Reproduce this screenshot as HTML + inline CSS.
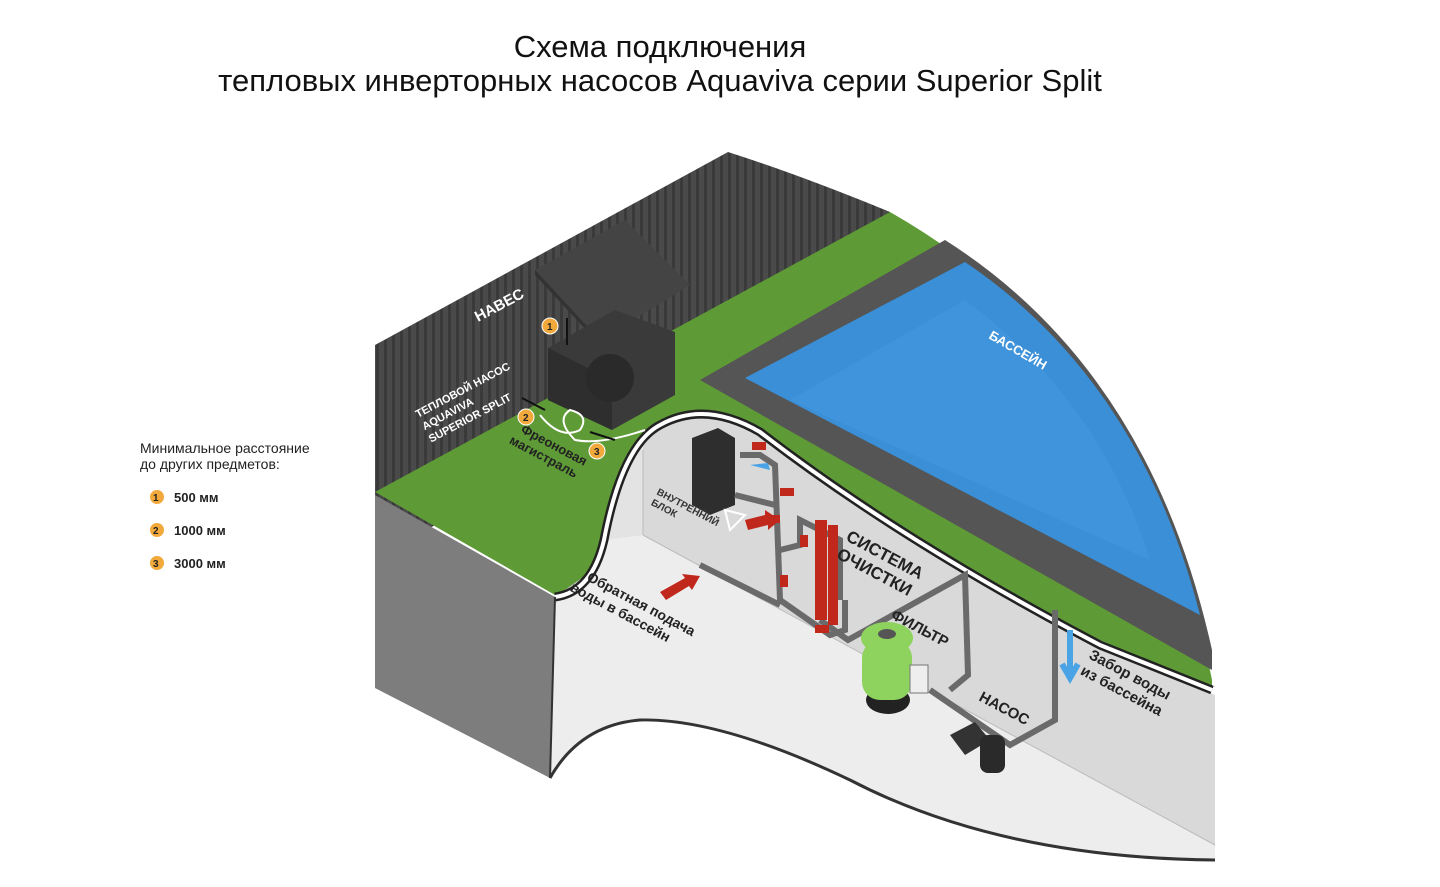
<!DOCTYPE html>
<html><head><meta charset="utf-8"><style>
html,body{margin:0;padding:0;background:#fff;}
body{width:1440px;height:887px;position:relative;overflow:hidden;font-family:"Liberation Sans",sans-serif;}
.t{position:absolute;left:0;width:1320px;text-align:center;font-size:31px;color:#111;}
</style></head><body>
<div class="t" style="top:29px">Схема подключения</div>
<div class="t" style="top:63px">тепловых инверторных насосов Aquaviva серии Superior Split</div>
<svg width="1440" height="887" style="position:absolute;left:0;top:0" font-family="Liberation Sans, sans-serif">
<defs>
<pattern id="st" width="8" height="8" patternUnits="userSpaceOnUse">
<rect width="8" height="8" fill="#4a4a4a"/><rect width="3" height="8" fill="#3a3a3a"/>
</pattern>
</defs>
<!-- legend -->
<text x="140" y="453" font-size="14" fill="#222">Минимальное расстояние</text>
<text x="140" y="469" font-size="14" fill="#222">до других предметов:</text>
<g font-size="13" font-weight="bold" fill="#222">
<circle cx="157" cy="497" r="7" fill="#f2a93b"/><text x="153" y="501" font-size="10">1</text><text x="174" y="502">500 мм</text>
<circle cx="157" cy="530" r="7" fill="#f2a93b"/><text x="153" y="534" font-size="10">2</text><text x="174" y="535">1000 мм</text>
<circle cx="157" cy="563" r="7" fill="#f2a93b"/><text x="153" y="567" font-size="10">3</text><text x="174" y="568">3000 мм</text>
</g>
<!-- fence -->
<path d="M375,345 L728,152 Q800,175 890,212 L890,260 L375,560 Z" fill="url(#st)"/>
<!-- green ground -->
<path d="M375,492 L890,212 Q1150,360 1212,680 L1212,690 L1100,640 Q900,540 760,430 Q700,400 660,425 Q620,450 600,540 Q590,590 555,595 Z" fill="#5e9a36"/>
<!-- pool border -->
<path d="M700,380 L945,240 Q1150,370 1212,650 L1212,670 Z" fill="#555"/>
<path d="M745,378 L965,262 Q1140,380 1200,615 Z" fill="#3a8fd6"/>
<path d="M790,400 L965,300 Q1100,400 1150,560 Z" fill="#4598dd" opacity="0.6"/>
<!-- under section: left wall -->
<path d="M375,495 L555,597 L550,778 L375,688 Z" fill="#7d7d7d"/>
<!-- back wall -->
<path d="M555,597 Q592,592 604,540 Q622,445 660,425 Q705,400 760,432 Q900,540 1100,645 L1215,695 L1215,845 L643,535 Z" fill="#d9d9d9"/>
<path d="M604,540 Q615,470 643,445 L643,535 Z" fill="#e3e3e3"/>
<!-- floor -->
<path d="M555,597 Q592,592 604,540 L643,535 L1215,845 L1215,860 Q1000,860 850,780 Q720,718 640,720 Q580,730 550,778 Z" fill="#ededed"/>
<path d="M643,535 L1215,845" stroke="#bbb" stroke-width="1"/>
<path d="M643,450 L643,535" stroke="#bbb" stroke-width="1"/>
<!-- cut white rim -->
<path d="M555,597 Q592,592 604,540 Q622,445 660,425 Q705,400 760,432 Q900,540 1100,645 L1212,690" fill="none" stroke="#222" stroke-width="9"/>
<path d="M555,597 Q592,592 604,540 Q622,445 660,425 Q705,400 760,432 Q900,540 1100,645 L1212,690" fill="none" stroke="#fff" stroke-width="4"/>
<path d="M550,778 Q580,725 640,720 Q720,718 850,780 Q1000,858 1215,860" fill="none" stroke="#333" stroke-width="3"/>
<path d="M555,597 L550,778" stroke="#333" stroke-width="2"/>
<!-- heat pump -->
<path d="M535,270 L625,220 L690,285 L600,340 Z" fill="#444"/>
<path d="M535,270 L600,340 L600,345 L535,275Z" fill="#333"/>
<path d="M548,348 L615,310 L675,332 L675,395 L612,430 L548,400 Z" fill="#3a3a3a"/>
<path d="M548,348 L612,380 L612,430 L548,400Z" fill="#2e2e2e"/>
<circle cx="610" cy="378" r="24" fill="#2a2a2a"/>
<path d="M540,415 Q560,440 580,430 Q590,415 570,410 Q555,420 575,440 Q600,445 645,430" fill="none" stroke="#fff" stroke-width="2"/>
<g fill="#f2a93b" stroke="#fff" stroke-width="1"><circle cx="550" cy="326" r="8"/><circle cx="526" cy="417" r="8"/><circle cx="597" cy="451" r="8"/></g>
<g font-size="10" font-weight="bold" fill="#222"><text x="547" y="330">1</text><text x="523" y="421">2</text><text x="594" y="455">3</text></g>
<path d="M567,318 L567,345 M522,398 L545,410 M590,432 L615,440" stroke="#111" stroke-width="2"/>
<!-- indoor block -->
<path d="M692,438 L718,428 L735,438 L735,505 L710,515 L692,505Z" fill="#2e2e2e"/>
<!-- pipes -->
<g fill="none" stroke="#6a6a6a" stroke-width="6">
<path d="M740,455 L760,455 L775,465 L780,600 L830,635 L845,630 L845,600"/>
<path d="M735,495 L775,505"/>
<path d="M780,550 L800,545 L800,520 L840,540 L840,600"/>
<path d="M820,620 L848,640 L965,575 L968,675 L950,690"/>
<path d="M700,565 L780,605"/>
<path d="M930,690 L1010,745 L1055,720 L1055,610"/>
</g>
<g fill="#c0281c"><rect x="752" y="442" width="14" height="8"/><rect x="780" y="488" width="14" height="8"/><rect x="770" y="515" width="10" height="8"/><rect x="800" y="535" width="8" height="12"/><rect x="780" y="575" width="8" height="12"/><rect x="815" y="625" width="14" height="8"/>
<rect x="815" y="520" width="12" height="100"/><rect x="828" y="525" width="10" height="100"/>
<path d="M745,520 L765,515 L765,510 L780,520 L768,530 L768,525 L748,530Z"/>
<path d="M660,592 L685,578 L682,574 L700,576 L692,590 L689,586 L666,600Z"/>
</g>
<path d="M750,465 L770,470 L768,463Z" fill="#4aa3e5"/>
<path d="M725,510 L745,515 L730,530Z" fill="none" stroke="#fff" stroke-width="2"/>
<!-- filter -->
<ellipse cx="888" cy="700" rx="22" ry="14" fill="#222"/>
<rect x="862" y="640" width="50" height="60" rx="18" fill="#8ed35d"/>
<ellipse cx="887" cy="638" rx="26" ry="16" fill="#8ed35d"/>
<ellipse cx="887" cy="634" rx="9" ry="5" fill="#555"/>
<rect x="910" y="665" width="18" height="28" fill="#eee" stroke="#777"/>
<!-- pump -->
<path d="M950,735 L975,722 L990,740 L965,755Z" fill="#333"/>
<rect x="980" y="735" width="25" height="38" rx="8" fill="#2a2a2a"/>
<path d="M1070,630 L1070,672 M1062,664 L1070,678 L1078,664" stroke="#4aa3e5" stroke-width="6" fill="none"/>
<!-- labels -->
<g font-weight="bold">
<text transform="translate(478,322) rotate(-28)" font-size="15" fill="#fff">НАВЕС</text>
<g transform="translate(418,418) rotate(-28)" font-size="11" fill="#fff"><text x="0" y="0">ТЕПЛОВОЙ НАСОС</text><text x="0" y="14">AQUAVIVA</text><text x="0" y="28">SUPERIOR SPLIT</text></g>
<g transform="translate(520,432) rotate(28)" font-size="13" fill="#222"><text x="0" y="0">Фреоновая</text><text x="-5" y="15">магистраль</text></g>
<text transform="translate(988,338) rotate(30)" font-size="13" fill="#fff">БАССЕЙН</text>
<g transform="translate(656,494) rotate(28)" font-size="10" fill="#333"><text>ВНУТРЕННИЙ</text><text y="12">БЛОК</text></g>
<g transform="translate(845,540) rotate(28)" font-size="17" fill="#222"><text>СИСТЕМА</text><text y="20">ОЧИСТКИ</text></g>
<text transform="translate(890,618) rotate(28)" font-size="15" fill="#222">ФИЛЬТР</text>
<text transform="translate(978,700) rotate(28)" font-size="15" fill="#222">НАСОС</text>
<g transform="translate(1088,658) rotate(28)" font-size="15" fill="#222"><text>Забор воды</text><text y="18">из бассейна</text></g>
<g transform="translate(586,580) rotate(28)" font-size="14" fill="#222"><text>Обратная подача</text><text x="-10" y="17">воды в бассейн</text></g>
</g>
</svg>
</body></html>
